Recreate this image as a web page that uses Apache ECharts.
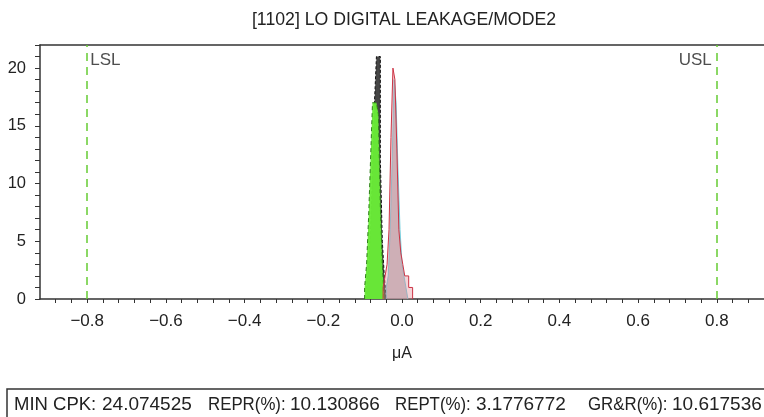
<!DOCTYPE html>
<html>
<head>
<meta charset="utf-8">
<script src="https://cdn.jsdelivr.net/npm/echarts@6/dist/echarts.min.js"></script>
<style>
  html, body { margin: 0; padding: 0; background: #fff; }
  #chart { width: 764px; height: 417px; }
</style>
</head>
<body>
<div id="chart"></div>
<script>
// Leakage histograms per measurement group (bin width in µA, counts per bin)
const binWidth = 0.005;

const blackStart = -0.090;
const blackCounts = [1, 3, 6, 11, 17, 21, 21, 12, 5, 2];

const greenStart = -0.095;
const greenCounts = [1, 3, 7, 12, 17, 17, 17, 16, 8, 3];

const grayStart = -0.040;
const grayCounts = [1, 2, 6, 12, 19, 17, 11, 6, 3, 2, 1];

const redStart = -0.048;
const redCounts = [1, 2, 3, 6, 14, 20, 19, 13, 6, 4, 3, 2, 2, 1, 1];

// Spec limits
const specLimits = [
  { name: 'LSL', value: -0.8 },
  { name: 'USL', value: 0.8 }
];

const titleText = '[1102] LO DIGITAL LEAKAGE/MODE2';
const xAxisName = 'μA';

// Summary line: label / value pairs
const summaryLabels = ['MIN CPK:', 'REPR(%):', 'REPT(%):', 'GR&R(%):'];
const summaryValues = ['24.074525', '10.130866', '3.1776772', '10.617536'];

const xMin = -0.92, xMax = 0.92, xStep = 0.04;
const yMin = 0, yMax = 22, yStep = 1;

const FONT = 'Liberation Sans, Arial, Helvetica, sans-serif';

// Step outline of a histogram: left edge of each bin with its count, closed at the right edge
function toSteps(start, counts) {
  const pts = [[start, 0]];
  counts.forEach((c, i) => {
    pts.push([+(start + i * binWidth).toFixed(4), c]);
  });
  pts.push([+(start + counts.length * binWidth).toFixed(4), 0]);
  return pts;
}

function histSeries(name, start, counts, fill, stroke, dash, z) {
  return {
    name: name,
    type: 'line',
    step: 'end',
    data: toSteps(start, counts),
    showSymbol: false,
    symbol: 'none',
    lineStyle: { color: stroke, width: 1, type: dash || 'solid' },
    areaStyle: { color: fill, opacity: 1, origin: 'start' },
    z: z
  };
}

function fmtTick(v) {
  const k = Math.round(v * 100);
  if (k % 20 !== 0) return '';
  const s = Math.abs(v).toFixed(1);
  return v < -1e-9 ? '\u2212' + s : s;
}

const chart = echarts.init(document.getElementById('chart'), null, { renderer: 'canvas' });

const textColor = '#222';
const axisColor = '#333';

const summaryGraphics = [];
const labelX = [14, 208, 395, 588];
const labelScale = [1, 0.91, 0.91, 0.91];
const valueX = [102, 290, 476, 672];
summaryLabels.forEach((t, i) => {
  summaryGraphics.push({
    type: 'text', x: labelX[i], y: 405, scaleX: labelScale[i], silent: true,
    style: { text: t, fontFamily: FONT, fontSize: 18.5, fill: textColor, textVerticalAlign: 'middle' }
  });
  summaryGraphics.push({
    type: 'text', x: valueX[i], y: 405, silent: true,
    style: { text: summaryValues[i], fontFamily: FONT, fontSize: 19, fill: textColor, textVerticalAlign: 'middle' }
  });
});

chart.setOption({
  animation: false,
  backgroundColor: '#fff',
  title: {
    text: titleText,
    left: 399,
    textAlign: 'center',
    top: 6,
    textStyle: { fontFamily: FONT, fontSize: 17.7, fontWeight: 'normal', color: textColor }
  },
  grid: { left: 40, right: -2, top: 45, bottom: 118, containLabel: false },
  xAxis: [
    {
      type: 'value',
      min: xMin, max: xMax, interval: xStep,
      name: xAxisName,
      nameLocation: 'middle',
      nameGap: 47,
      nameTextStyle: { fontFamily: FONT, fontSize: 16, color: textColor },
      axisLine: { show: true, onZero: false, lineStyle: { color: axisColor, width: 1.5 } },
      axisTick: { show: true, inside: false, length: 4, lineStyle: { color: axisColor, width: 1 } },
      axisLabel: {
        interval: 0,
        showMinLabel: false, showMaxLabel: false,
        formatter: fmtTick,
        margin: 14,
        fontFamily: FONT, fontSize: 17, color: textColor
      },
      splitLine: { show: false }
    },
    {
      type: 'value',
      position: 'top',
      min: xMin, max: xMax,
      axisLine: { show: true, onZero: false, lineStyle: { color: axisColor, width: 1.5 } },
      axisTick: { show: false },
      axisLabel: { show: false },
      splitLine: { show: false }
    }
  ],
  yAxis: {
    type: 'value',
    min: yMin, max: yMax, interval: yStep,
    axisLine: { show: true, onZero: false, lineStyle: { color: axisColor, width: 1.5 } },
    axisTick: { show: true, length: 5, lineStyle: { color: axisColor, width: 1 } },
    axisLabel: {
      interval: 0,
      formatter: v => (v % 5 === 0 && v <= 20 ? String(v) : ''),
      margin: 14,
      fontFamily: FONT, fontSize: 16.5, color: textColor
    },
    splitLine: { show: false }
  },
  series: [
    Object.assign(histSeries('black', blackStart, blackCounts, 'rgba(50,50,50,0.9)', '#111', [3, 2], 2), {
      markLine: {
        silent: true,
        symbol: 'none',
        label: { show: false },
        lineStyle: { color: '#66cc33', width: 1.5, type: [8, 6] },
        data: specLimits.map(s => ({ xAxis: s.value }))
      }
    }),
    histSeries('green', greenStart, greenCounts, 'rgba(105,235,55,0.97)', '#2f7f1a', [4, 3], 3),
    histSeries('gray', grayStart, grayCounts, 'rgba(165,170,178,0.65)', 'rgba(110,205,220,0.95)', null, 4),
    histSeries('red', redStart, redCounts, 'rgba(225,130,140,0.35)', '#cc3344', null, 5),
    {
      name: 'limits',
      type: 'scatter',
      xAxisIndex: 0,
      symbolSize: 0,
      silent: true,
      data: specLimits.map(s => ({
        value: [s.value, 20.7],
        label: {
          show: true,
          formatter: s.name,
          position: s.value < 0 ? 'right' : 'left',
          distance: s.value < 0 ? 3 : 5,
          fontFamily: FONT,
          fontSize: 17,
          color: textColor
        }
      })),
      z: 6
    }
  ],
  graphic: [
    {
      type: 'rect',
      shape: { x: 7, y: 389, width: 800, height: 60 },
      style: { fill: '#fff', stroke: axisColor, lineWidth: 1.5 },
      silent: true
    }
  ].concat(summaryGraphics)
});
</script>
</body>
</html>
